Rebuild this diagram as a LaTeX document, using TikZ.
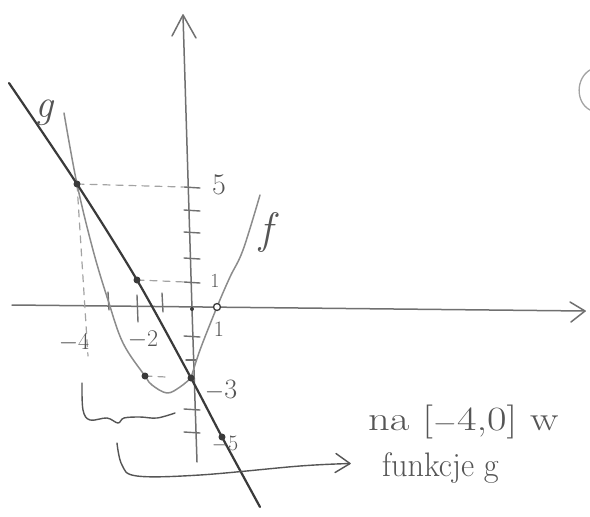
\documentclass[tikz,border=0pt]{standalone}
\usetikzlibrary{calc}
\definecolor{axisc}{HTML}{707070}
\definecolor{gc}{HTML}{3A3A3A}
\definecolor{fc}{HTML}{8C8C8C}
\definecolor{txtc}{HTML}{555555}
\begin{document}
\begin{tikzpicture}[x=1pt,y=-1pt, line cap=round, line join=round,
 axisline/.style={draw=axisc, line width=1.5pt},
 gline/.style={draw=gc, line width=2.2pt},
 fline/.style={draw=fc, line width=1.5pt},
 tickmark/.style={draw=axisc, line width=1.4pt},
 dashline/.style={draw=fc!80, line width=1.2pt, dash pattern=on 7pt off 6pt},
 dotmark/.style={circle, fill=gc, inner sep=0pt, minimum size=7pt},
 lbl/.style={text=txtc, inner sep=0pt},
 handline/.style={draw=txtc, line width=1.4pt}]
\useasboundingbox (0,0) rectangle (590,517);
\fill[white] (0,0) rectangle (590,517);

% axes
\coordinate (ytop) at (183,15);
\coordinate (ymid) at (192,309);
\coordinate (ybot) at (197,462);
\coordinate (yl) at (172,36);
\coordinate (yr) at (196,38);
\draw[axisline] (ybot) -- (ymid) -- (ytop);
\draw[axisline] (yl) -- (ytop) -- (yr);
\coordinate (xl) at (12,305);
\coordinate (xr) at (585,311);
\coordinate (xa) at (570,302);
\coordinate (xb) at (571,322);
\draw[axisline] (xl) -- (xr);
\draw[axisline] (xa) -- (xr) -- (xb);

% y ticks
\foreach \t in {187,210,232,258,282,336,409,432}
  \draw[tickmark] (184,\t) -- (200,\t+1);
\draw[tickmark] (186,360) -- (196,360);
% x ticks
\draw[tickmark] (108,292) -- (109,310);
\draw[tickmark] (137,295) -- (138,322);
\draw[tickmark] (162,293) -- (163,312);

% key points
\coordinate (P1) at (77,184);
\coordinate (P2) at (137,280);
\coordinate (P3) at (191,378);
\coordinate (P4) at (222,437);
\coordinate (M) at (145,376);
\coordinate (Z) at (217,307);

% dashed helpers
\draw[dashline] (P1) -- (183,187);
\draw[dashline] (P1) -- (88,356);
\draw[dashline] (P2) -- (185,282);
\draw[dashline] (M) -- (166,377);

% f
\draw[fline] plot[smooth, tension=0.6] coordinates {(64,113) (P1) (93,250) (108,300) (123,343) (M) (152,385) (167,393) (180,387) (P3)};
\draw[fline] plot[smooth, tension=0.6] coordinates {(P3) (200,350) (Z) (230,277) (243,250) (260,195)};

% g
\draw[gline] plot[smooth, tension=0.5] coordinates {(9,83) (P1) (P2) (P3) (P4) (260,507)};

% dots
\foreach \p in {P1,P2,P3,P4,M}
  \node[dotmark] at (\p) {};
\node[circle, draw=gc, fill=white, line width=1.3pt, inner sep=0pt, minimum size=7pt] (zp) at (Z) {};
\node[circle, fill=gc, inner sep=0pt, minimum size=4pt] (o) at (ymid) {};

% brace
\draw[handline] plot[smooth, tension=0.6] coordinates {(82,383) (83,410) (90,420) (107,418) (118,423) (124,418) (140,417) (157,418) (175,413)};

% top right arc
\draw[draw=fc!80, line width=1.3pt] (590,70) .. controls (576,78) and (575,102) .. (590,110);

% labels
\node[lbl] (lg) at (44,113) {\fontsize{40}{40}\selectfont\itshape g};
\node[lbl] (lf) at (266,232) {\fontsize{44}{44}\selectfont\itshape f};
\node[lbl] (l5) at (219,185) {\fontsize{30}{30}\selectfont 5};
\node[lbl] (l1y) at (215,281) {\fontsize{20}{20}\selectfont 1};
\node[lbl] (l1x) at (219,329) {\fontsize{22}{22}\selectfont 1};
\node[lbl] (lm4) at (74,343) {\fontsize{24}{24}\selectfont $-$4};
\node[lbl] (lm2) at (143,340) {\fontsize{24}{24}\selectfont $-$2};
\node[lbl] (lm3) at (221,390) {\fontsize{28}{28}\selectfont $-$3};
\node[lbl] (lm5) at (225,444) {\fontsize{22}{22}\selectfont $-$5};

% text
\node[lbl, anchor=base west] (t1) at (368,430) {\fontsize{34}{36}\selectfont\scalebox{1.25}[1]{na [$-$4,0] w}};
\node[lbl, anchor=base west] (t2) at (382,476) {\fontsize{34}{36}\selectfont\scalebox{0.95}[1]{funkcje g}};

% lower bracket arrow
\coordinate (arrtip) at ($(t2.west)+(-32,-4)$);
\draw[handline] plot[smooth, tension=0.6] coordinates {(117,443) (122,465) (137,476) (200,475) (300,466) (arrtip)};
\draw[handline] ($(arrtip)+(-14,-10)$) -- (arrtip) -- ($(arrtip)+(-15,9)$);
\end{tikzpicture}
\end{document}
